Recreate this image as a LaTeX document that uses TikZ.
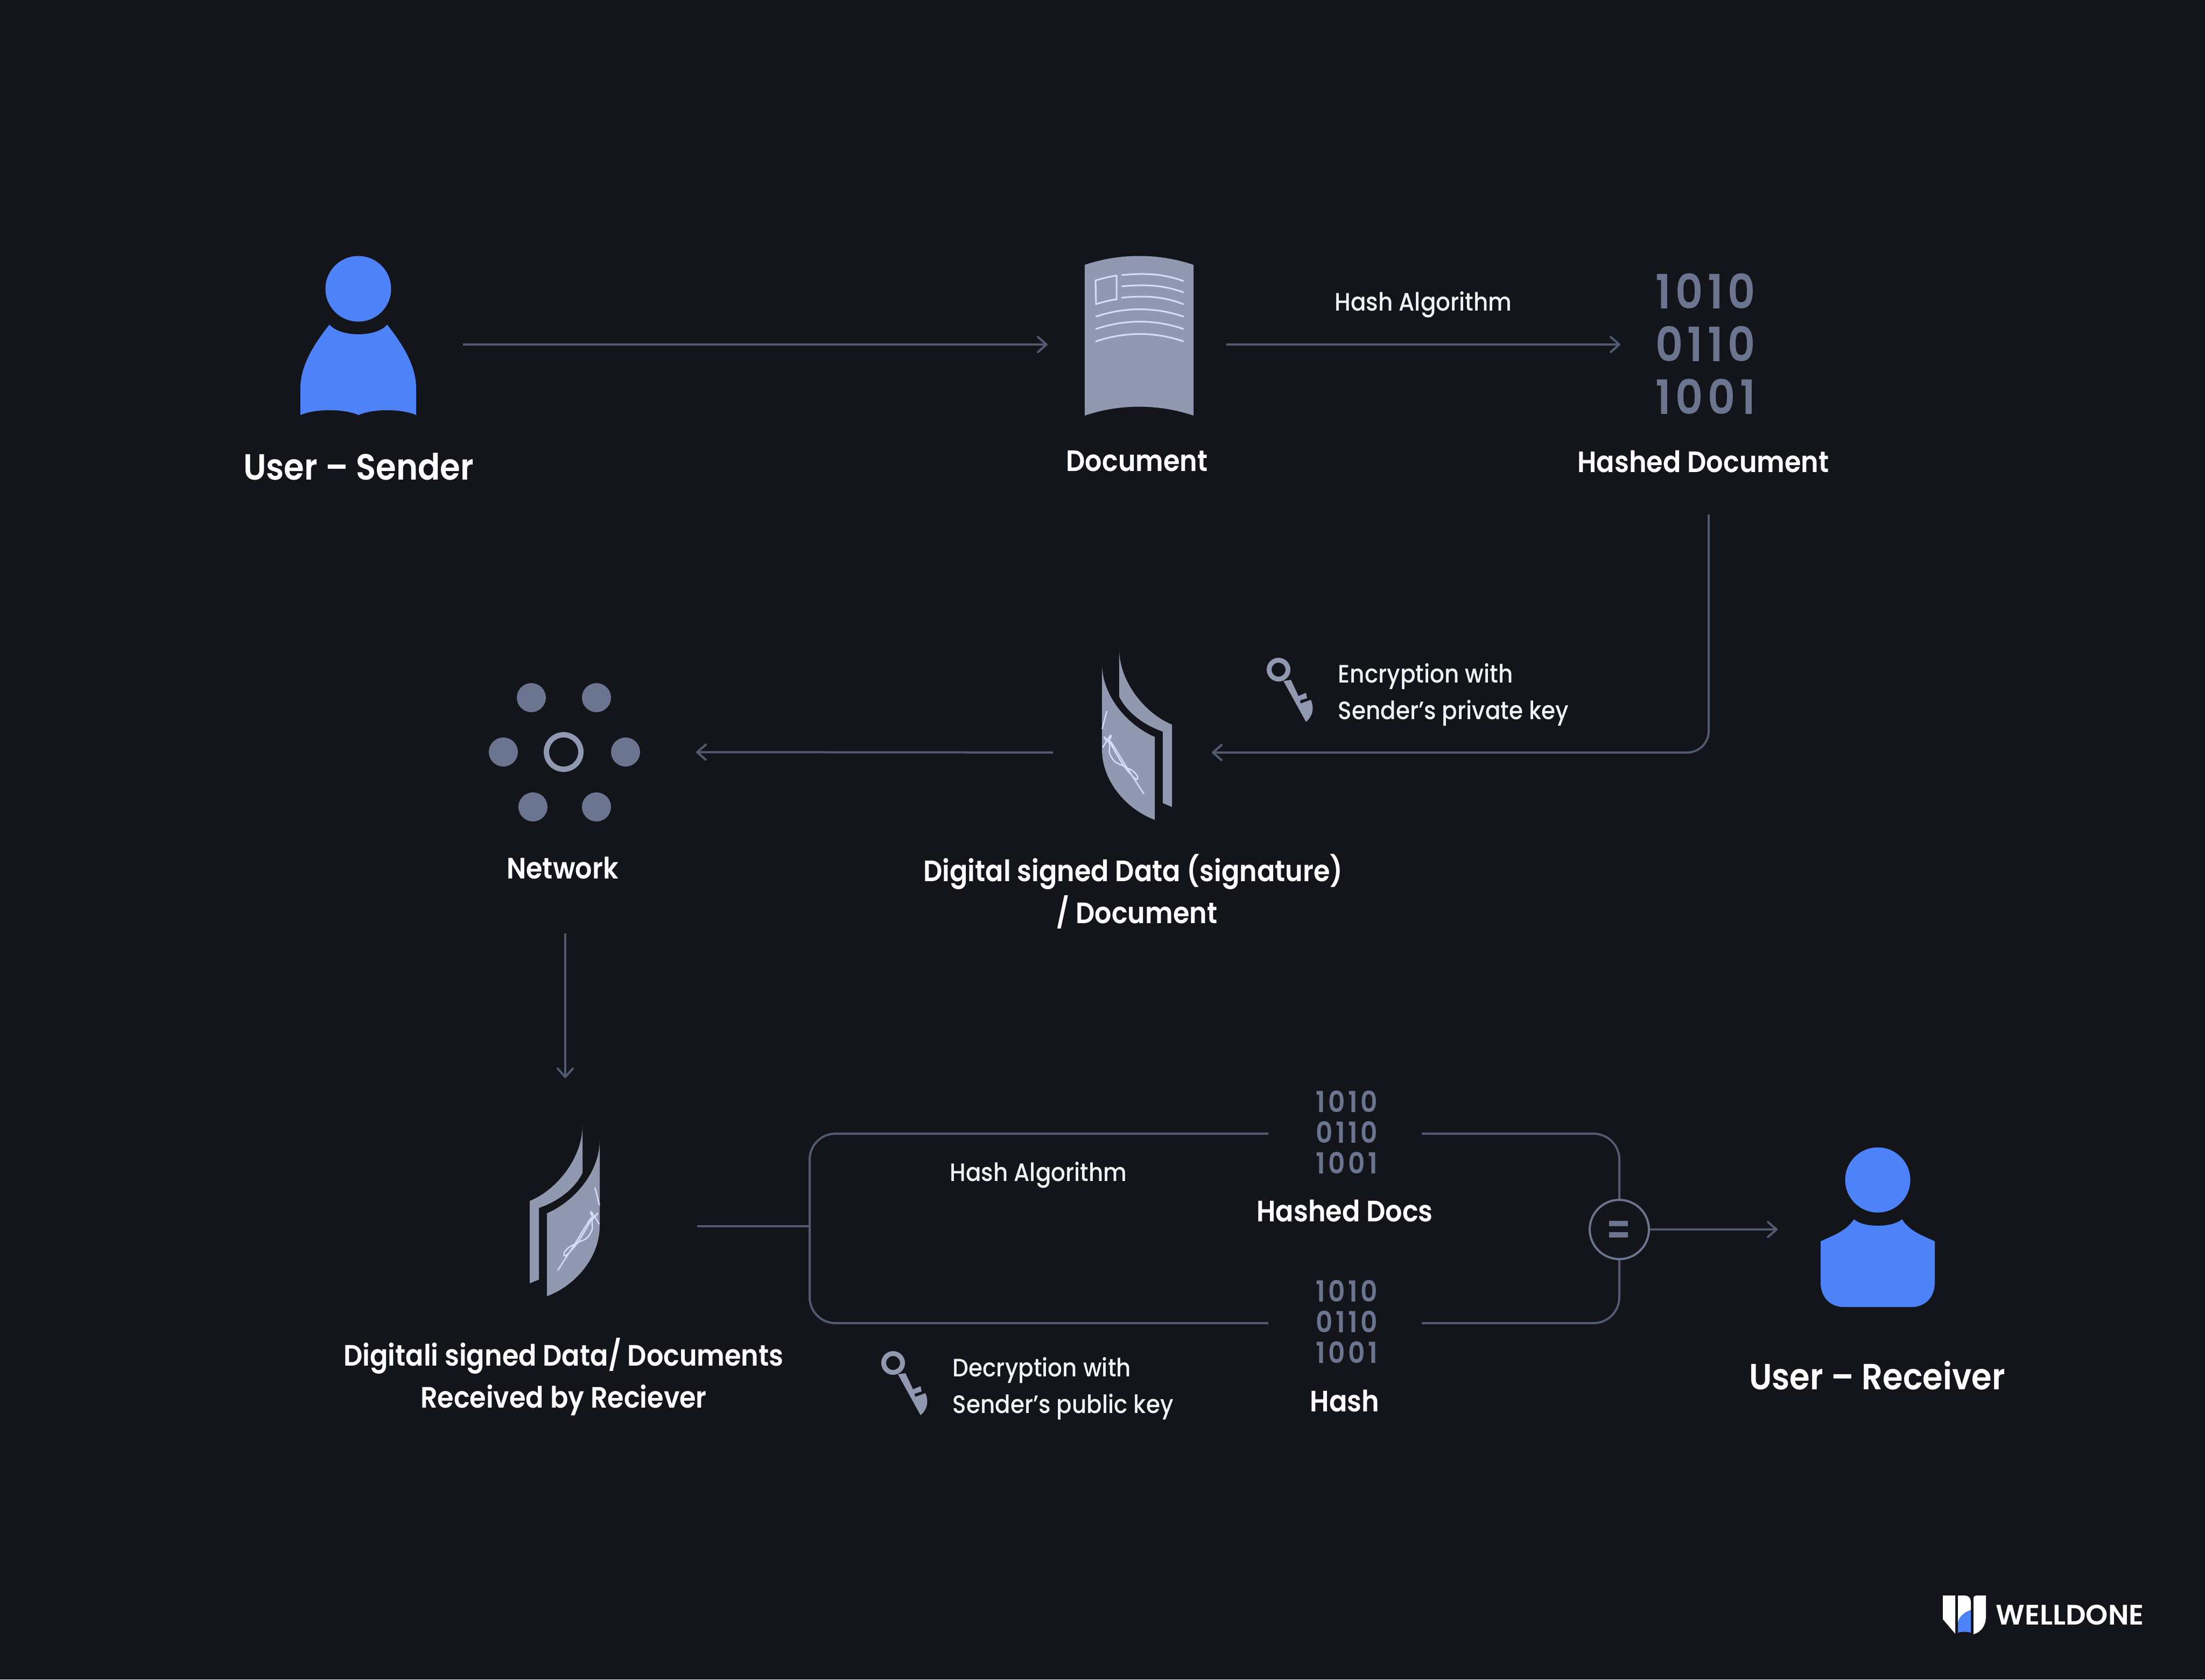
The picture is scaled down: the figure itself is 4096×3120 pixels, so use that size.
\documentclass[tikz,border=0pt]{standalone}
\usepackage{fontspec}
\usetikzlibrary{arrows.meta}
\newfontfamily\fmed[UprightFont=* SemiBold,FakeStretch=0.9]{Poppins}
\newfontfamily\freg[UprightFont=* Medium,FakeStretch=0.9]{Poppins}
\newfontfamily\fdig[UprightFont=* SemiBold,FakeStretch=0.9,LetterSpace=10]{Poppins}
\newfontfamily\fbrand[UprightFont=* SemiBold]{Poppins}
\definecolor{bgc}{HTML}{13151A}
\definecolor{bluec}{HTML}{4D82F8}
\definecolor{linec}{HTML}{525A70}
\definecolor{digitc}{HTML}{6C7590}
\definecolor{iconc}{HTML}{9199B0}
\definecolor{inkc}{HTML}{D4DFF7}
\definecolor{softw}{HTML}{F0F2F8}
\newcommand{\shieldicon}{%
  \fill[iconc] (0,27) .. controls (0,85) and (45,140) .. (98,163) -- (98,317) .. controls (45,297) and (0,245) .. (0,186) -- cycle;
  \fill[iconc] (32,0) .. controls (32,60) and (80,120) .. (130,140) -- (130,293) -- (113,286) -- (113,153) .. controls (75,140) and (45,115) .. (32,88) -- cycle;
  \draw[inkc,line width=0.6pt] (9,115) -- (0.3,148);
  \draw[inkc,line width=0.6pt,line join=round] plot[smooth,tension=0.5] coordinates {(78,269) (47,221) (17,173) (9,170) (4,163) (14,176) (14,193) (24,209) (40,217) (57,226) (66,236) (65,242) (57,236) (40,216) (15,173) (17,163) (15,161) (1,183)};
}
\newcommand{\keyicon}{%
  \draw[iconc,line width=2.25pt] (0,0) circle[radius=17.5];
  \fill[iconc] (9,21) -- (51,97) .. controls (65,85) and (66,70) .. (60,56) -- (41,63) -- (40,57) -- (53,53) -- (51,43) -- (37,49) -- (23,19) -- cycle;
}
\tikzset{
  x=0.25pt,y=-0.25pt,
  port/.style 2 args={minimum width=#1*0.25pt,minimum height=#2*0.25pt,inner sep=0pt,outer sep=0pt},
  conn/.style={draw=linec,line width=1pt},
  arr/.style={conn,-{Straight Barb[length=4pt,width=7pt,round]}},
  biglabel/.style={font=\fmed\fontsize{16.9pt}{19.5pt}\selectfont,text=white,align=center,inner sep=0pt},
  medlabel/.style={font=\fmed\fontsize{13.7pt}{19.5pt}\selectfont,text=white,align=center,inner sep=0pt},
  reglabel/.style={font=\freg\fontsize{11.7pt}{17pt}\selectfont,text=softw,align=left,inner sep=0pt},
  bigdigits/.style={font=\fdig\fontsize{22pt}{24.5pt}\selectfont,text=digitc,align=center,inner sep=0pt},
  smalldigits/.style={font=\fdig\fontsize{13.5pt}{14.25pt}\selectfont,text=digitc,align=center,inner sep=0pt},
  dot/.style={fill=digitc,circle,minimum size=13.5pt,inner sep=0pt},
}
\begin{document}
\begin{tikzpicture}
\useasboundingbox (0,0) rectangle (4096,3120);
\fill[bgc] (0,0) rectangle (4096,3120);

% sender
\fill[bluec] (665.5,536.5) circle[radius=61];
\fill[bluec] (719,603) .. controls (700,627) and (632,627) .. (612,603) .. controls (585,637) and (558,678) .. (558,721) -- (558,771) .. controls (585,759) and (640,759) .. (666,771) .. controls (692,759) and (746,759) .. (773,771) -- (773,721) .. controls (773,678) and (746,637) .. (719,603) -- cycle;
\node[biglabel] (senderlabel) at (666,867) {User – Sender};
\node[port={390}{300}] (sender) at (665,640) {};

% document
\fill[iconc] (2015,492) .. controls (2080,470) and (2152,470) .. (2217,492) -- (2217,772) .. controls (2152,750) and (2080,750) .. (2015,772) -- cycle;
\begin{scope}[draw=inkc,line width=0.75pt,line cap=round]
\draw (2035,521) .. controls (2048,517) and (2060,514) .. (2074,512) -- (2074,556) .. controls (2060,558) and (2048,561) .. (2036,565) -- cycle;
\draw (2084,511) .. controls (2125,507) and (2160,508) .. (2198,522);
\draw (2084,532) .. controls (2125,528) and (2160,529) .. (2198,543);
\draw (2084,553) .. controls (2125,549) and (2160,550) .. (2198,565);
\draw (2036,588) .. controls (2090,570) and (2145,570) .. (2198,588);
\draw (2036,611) .. controls (2090,593) and (2145,593) .. (2198,611);
\draw (2036,634) .. controls (2090,616) and (2145,616) .. (2198,634);
\end{scope}
\node[medlabel] (doclabel) at (2112,857) {Document};
\node[port={332}{300}] (doc) at (2112,640) {};

% hashed document
\node[bigdigits] (hashbig) at (3168,639) {1010\\0110\\1001};
\node[medlabel] (hdlabel) at (3164,857) {Hashed Document};
\node[port={306}{300}] (hd) at (3163,640) {};
\node[port={40}{100}] (hdout) at (3174,906) {};
\node[reglabel] (halg1) at (2644,566) {Hash Algorithm};

% signed data
\begin{scope}[shift={(2047,1206)}]\shieldicon\end{scope}
\node[port={295}{300}] (sign) at (2103.5,1398) {};
\node[medlabel] (signlabel) at (2105,1656) {Digital signed Data (signature)\\\kern3.5pt/ Document};
\begin{scope}[shift={(2375,1244)}]\keyicon\end{scope}
\node[reglabel,anchor=west] (enc) at (2485,1291) {Encryption with\\Sender’s private key};

% network
\node[dot] (n1) at (987,1296) {};
\node[dot] (n2) at (1108,1296) {};
\node[dot] (n3) at (935,1397) {};
\node[dot] (n4) at (1162,1397) {};
\node[dot] (n5) at (990,1499) {};
\node[dot] (n6) at (1108,1499) {};
\draw[iconc,line width=2.5pt] (1047,1397) circle[radius=32];
\node[medlabel] (netlabel) at (1045,1612) {Network};
\node[port={492}{674}] (net) at (1047,1397) {};
\node[port={6}{674}] (netout) at (1050,1397) {};

% received data
\begin{scope}[shift={(1114,2091)},xscale=-1]\shieldicon\end{scope}
\node[port={490}{550}] (recvd) at (1050,2278) {};
\node[medlabel] (recvdlabel) at (1047,2558) {Digitali signed Data/ Documents\\Received by Reciever};
\coordinate (junction) at (1504,2278);

% hashes
\node[smalldigits] (hashtop) at (2502,2103) {1010\\0110\\1001};
\node[port={285}{120}] (hashtopbox) at (2498.5,2106) {};
\node[medlabel] (hdocs) at (2498,2249) {Hashed Docs};
\node[reglabel] (halg2) at (1929,2183) {Hash Algorithm};
\node[smalldigits] (hashbot) at (2502,2455) {1010\\0110\\1001};
\node[port={285}{120}] (hashbotbox) at (2498.5,2458) {};
\node[medlabel] (hashlabel) at (2498,2602) {Hash};
\begin{scope}[shift={(1659,2532)}]\keyicon\end{scope}
\node[reglabel,anchor=west] (dec) at (1769,2580) {Decryption with\\Sender’s public key};

% equals
\node[draw=digitc,line width=1pt,circle,minimum size=27.5pt,inner sep=0pt] (eq) at (3008,2284) {};
\fill[digitc] (2989,2268) rectangle (3024,2278);
\fill[digitc] (2989,2289) rectangle (3024,2299);

% receiver
\fill[bluec] (3488,2192) circle[radius=60.5];
\fill[bluec] (3533,2265) .. controls (3516,2281) and (3460,2281) .. (3444,2265) .. controls (3428,2288) and (3405,2295) .. (3382,2306) -- (3382,2383) .. controls (3382,2410) and (3400,2428) .. (3425,2428) -- (3551,2428) .. controls (3576,2428) and (3594,2410) .. (3594,2383) -- (3594,2306) .. controls (3571,2295) and (3548,2288) .. (3533,2265) -- cycle;
\node[port={372}{300}] (recv) at (3488,2284) {};
\node[biglabel] (recvlabel) at (3487,2555) {User – Receiver};

% connectors
\draw[arr] (sender) -- (doc);
\draw[arr] (doc) -- (hd);
\draw[arr,rounded corners=10pt] (hdout.south) |- (sign.east);
\draw[arr] (sign) -- (net);
\draw[arr] (netout.south) -- (recvd.north);
\draw[conn] (recvd.east) -- (junction);
\draw[conn,rounded corners=12pt] (hashtopbox.west) -| (junction) |- (hashbotbox.west);
\draw[conn,rounded corners=12pt] (hashtopbox.east) -| (eq.north);
\draw[conn,rounded corners=12pt] (hashbotbox.east) -| (eq.south);
\draw[arr] (eq) -- (recv);

% logo
\fill[white] (3609,2964) -- (3632,2964) -- (3632,3035) -- (3609,3008) -- cycle;
\fill[white] (3637,2964) -- (3650,2964) .. controls (3657,2964) and (3661,2969) .. (3661,2976) -- (3661,2991) .. controls (3648,2995) and (3637,3005) .. (3637,3017) -- cycle;
\fill[bluec] (3661,2991) -- (3661,3033) .. controls (3653,3031) and (3645,3031) .. (3637,3033) -- (3637,3017) .. controls (3637,3005) and (3648,2995) .. (3661,2991) -- cycle;
\fill[white] (3666,2970) .. controls (3666,2966) and (3668,2964) .. (3671,2964) -- (3689,2964) -- (3689,3003) .. controls (3689,3020) and (3680,3032) .. (3666,3036) -- cycle;
\node[font=\fbrand\fontsize{13.1pt}{13.1pt}\selectfont,text=white,inner sep=0pt] (brand) at (3845,3000) {WELLDONE};
\end{tikzpicture}
\end{document}
